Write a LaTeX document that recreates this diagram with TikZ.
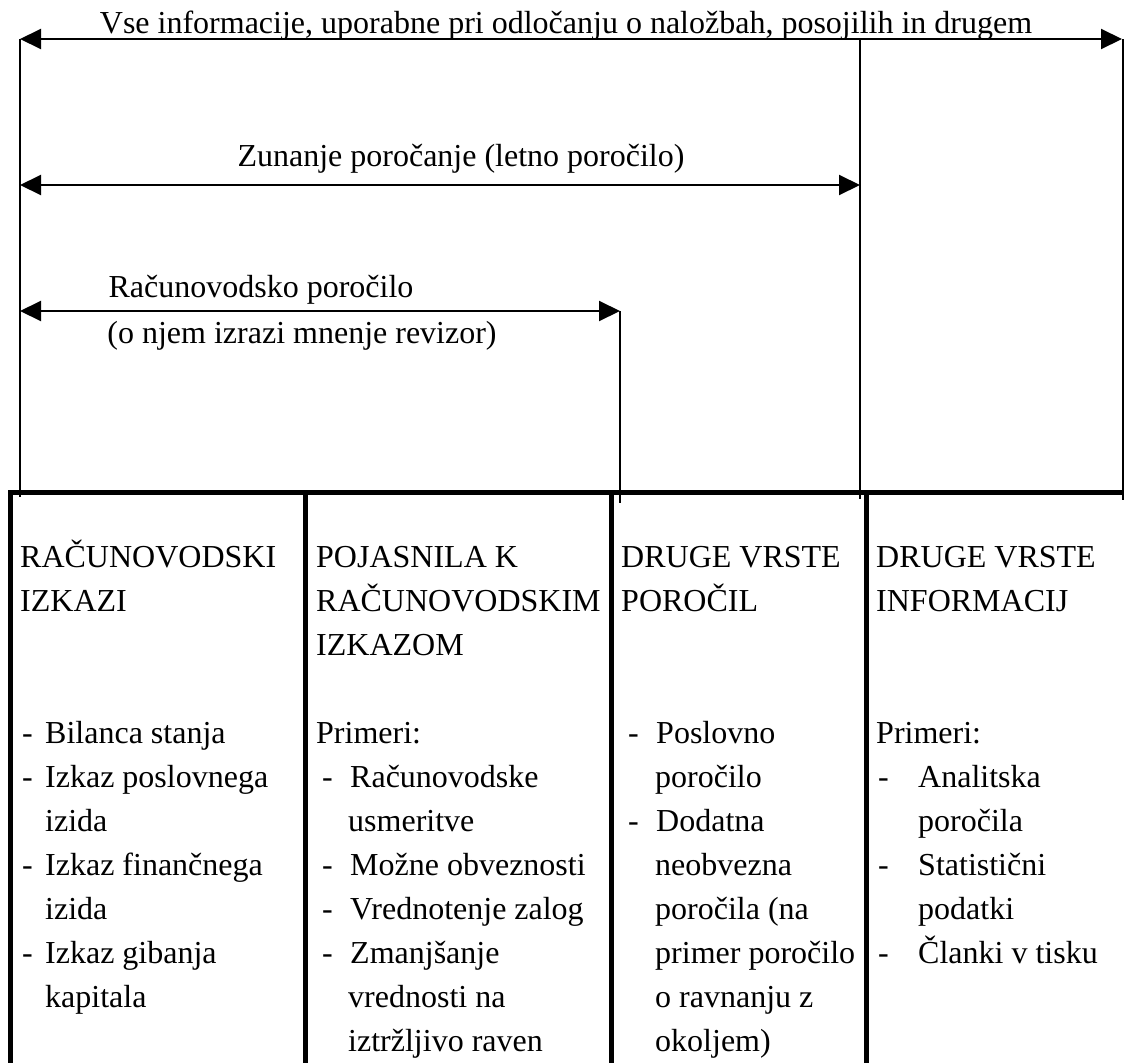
\documentclass[tikz,border=0pt]{standalone}
\usepackage{fontspec}
\setmainfont{Liberation Serif}
\usetikzlibrary{arrows.meta}
\begin{document}
\begin{tikzpicture}[x=1pt,y=-1pt,
  txt/.style={inner sep=0pt,anchor=base west,font=\fontsize{32}{43.5}\selectfont},
  ctxt/.style={inner sep=0pt,anchor=base,font=\fontsize{32}{43.5}\selectfont},
  dimarrow/.style={line width=2pt,{Triangle[length=21pt,width=20pt]}-{Triangle[length=21pt,width=20pt]}},
  thin line/.style={line width=1.4pt},
  thick line/.style={line width=5pt}]
\useasboundingbox (0,0) rectangle (1124,1063);
% coordinates of the dimension arrows and guides
\coordinate (a1l) at (20,39);   \coordinate (a1r) at (1122,39);
\coordinate (a2l) at (20,185);  \coordinate (a2r) at (860,185);
\coordinate (a3l) at (20,311);  \coordinate (a3r) at (620,311);
\coordinate (g1t) at (20,39);   \coordinate (g1b) at (20,497);
\coordinate (g2t) at (860,39);  \coordinate (g2b) at (860,499);
\coordinate (g3t) at (620,311); \coordinate (g3b) at (620,503);
\coordinate (g4t) at (1123,39); \coordinate (g4b) at (1123,500);
% guides
\draw[thin line] (g1t) -- (g1b);
\draw[thin line] (g2t) -- (g2b);
\draw[thin line] (g3t) -- (g3b);
\draw[thin line] (g4t) -- (g4b);
% arrows
\draw[dimarrow] (a1l) -- (a1r);
\draw[dimarrow] (a2l) -- (a2r);
\draw[dimarrow] (a3l) -- (a3r);
% arrow labels
\node[ctxt] (t1) at (566,33) {Vse informacije, uporabne pri odločanju o naložbah, posojilih in drugem};
\node[ctxt] (t2) at (461,166) {Zunanje poročanje (letno poročilo)};
\node[ctxt] (t3) at (261,297) {Računovodsko poročilo};
\node[ctxt] (t4) at (302,343) {(o njem izrazi mnenje revizor)};
% table
\coordinate (tl) at (8,492); \coordinate (tr) at (1124,492);
\coordinate (c1t) at (10,490);  \coordinate (c1b) at (10,1063);
\coordinate (c2t) at (305,490); \coordinate (c2b) at (305,1063);
\coordinate (c3t) at (611,490); \coordinate (c3b) at (611,1063);
\coordinate (c4t) at (866,490); \coordinate (c4b) at (866,1063);
\draw[thick line] (tl) -- (tr);
\draw[thick line] (c1t) -- (c1b);
\draw[thick line] (c2t) -- (c2b);
\draw[thick line] (c3t) -- (c3b);
\draw[thick line] (c4t) -- (c4b);
% column 1
\node[txt] (h11) at (20,567) {RAČUNOVODSKI};
\node[txt] (h12) at (20,611) {IZKAZI};
\node[txt] (d11) at (22,743) {-};  \node[txt] (l11) at (45,743) {Bilanca stanja};
\node[txt] (d12) at (22,787) {-};  \node[txt] (l12) at (45,787) {Izkaz poslovnega};
\node[txt] (l13) at (45,831) {izida};
\node[txt] (d14) at (22,875) {-};  \node[txt] (l14) at (45,875) {Izkaz finančnega};
\node[txt] (l15) at (45,919) {izida};
\node[txt] (d16) at (22,963) {-};  \node[txt] (l16) at (45,963) {Izkaz gibanja};
\node[txt] (l17) at (45,1007) {kapitala};
% column 2
\node[txt] (h21) at (316,567) {POJASNILA K};
\node[txt] (h22) at (316,611) {RAČUNOVODSKIM};
\node[txt] (h23) at (316,655) {IZKAZOM};
\node[txt] (l21) at (316,743) {Primeri:};
\node[txt] (d22) at (322,787) {-};  \node[txt] (l22) at (350,787) {Računovodske};
\node[txt] (l23) at (348,831) {usmeritve};
\node[txt] (d24) at (322,875) {-};  \node[txt] (l24) at (350,875) {Možne obveznosti};
\node[txt] (d25) at (322,919) {-};  \node[txt] (l25) at (350,919) {Vrednotenje zalog};
\node[txt] (d26) at (322,963) {-};  \node[txt] (l26) at (350,963) {Zmanjšanje};
\node[txt] (l27) at (348,1007) {vrednosti na};
\node[txt] (l28) at (348,1051) {iztržljivo raven};
% column 3
\node[txt] (h31) at (621,567) {DRUGE VRSTE};
\node[txt] (h32) at (621,611) {POROČIL};
\node[txt] (d31) at (628,743) {-};  \node[txt] (l31) at (656,743) {Poslovno};
\node[txt] (l32) at (655,787) {poročilo};
\node[txt] (d33) at (628,831) {-};  \node[txt] (l33) at (656,831) {Dodatna};
\node[txt] (l34) at (655,875) {neobvezna};
\node[txt] (l35) at (655,919) {poročila (na};
\node[txt] (l36) at (655,963) {primer poročilo};
\node[txt] (l37) at (655,1007) {o ravnanju z};
\node[txt] (l38) at (655,1051) {okoljem)};
% column 4
\node[txt] (h41) at (876,567) {DRUGE VRSTE};
\node[txt] (h42) at (876,611) {INFORMACIJ};
\node[txt] (l41) at (876,743) {Primeri:};
\node[txt] (d42) at (878,787) {-};  \node[txt] (l42) at (918,787) {Analitska};
\node[txt] (l43) at (918,831) {poročila};
\node[txt] (d44) at (878,875) {-};  \node[txt] (l44) at (918,875) {Statistični};
\node[txt] (l45) at (918,919) {podatki};
\node[txt] (d46) at (878,963) {-};  \node[txt] (l46) at (918,963) {Članki v tisku};
\end{tikzpicture}
\end{document}
